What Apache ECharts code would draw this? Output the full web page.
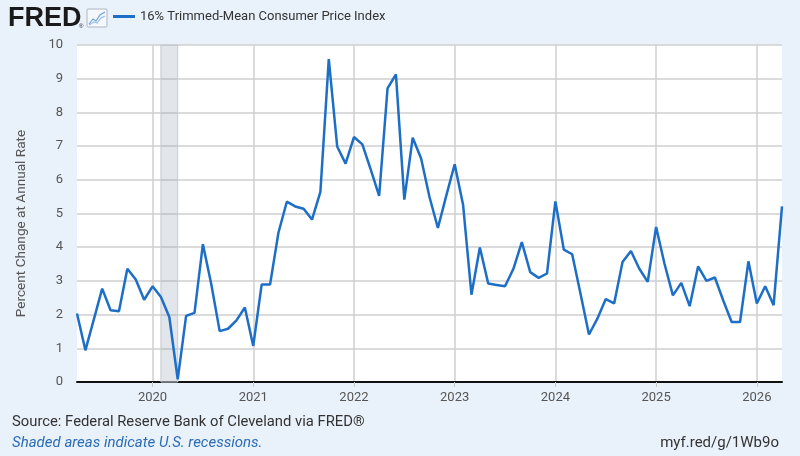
<!DOCTYPE html>
<html>
<head>
<meta charset="utf-8">
<script src="https://cdn.jsdelivr.net/npm/echarts@6/dist/echarts.min.js"></script>
<style>
html,body{margin:0;padding:0;background:#e9f1fa;}
#c{width:800px;height:456px;}
</style>
</head>
<body>
<div id="c"></div>
<script>
var months = [
  '2019-04','2019-05','2019-06','2019-07','2019-08','2019-09','2019-10','2019-11','2019-12',
  '2020-01','2020-02','2020-03','2020-04','2020-05','2020-06','2020-07','2020-08','2020-09','2020-10','2020-11','2020-12',
  '2021-01','2021-02','2021-03','2021-04','2021-05','2021-06','2021-07','2021-08','2021-09','2021-10','2021-11','2021-12',
  '2022-01','2022-02','2022-03','2022-04','2022-05','2022-06','2022-07','2022-08','2022-09','2022-10','2022-11','2022-12',
  '2023-01','2023-02','2023-03','2023-04','2023-05','2023-06','2023-07','2023-08','2023-09','2023-10','2023-11','2023-12',
  '2024-01','2024-02','2024-03','2024-04','2024-05','2024-06','2024-07','2024-08','2024-09','2024-10','2024-11','2024-12',
  '2025-01','2025-02','2025-03','2025-04','2025-05','2025-06','2025-07','2025-08','2025-09','2025-10','2025-11','2025-12',
  '2026-01','2026-02','2026-03','2026-04'
];
var trimmedMeanCPI = [
  2.03,0.94,1.85,2.77,2.13,2.10,3.36,3.04,2.44,
  2.84,2.52,1.93,0.08,1.96,2.05,4.09,2.90,1.51,1.58,1.83,2.21,
  1.07,2.89,2.89,4.43,5.35,5.21,5.14,4.82,5.64,9.58,6.99,6.48,
  7.27,7.05,6.30,5.52,8.71,9.13,5.41,7.25,6.63,5.49,4.57,5.53,
  6.46,5.26,2.59,3.99,2.92,2.88,2.84,3.36,4.15,3.26,3.09,3.22,
  5.36,3.93,3.79,2.61,1.41,1.88,2.46,2.33,3.56,3.89,3.36,2.97,
  4.60,3.51,2.57,2.94,2.25,3.43,3.00,3.10,2.42,1.78,1.78,3.58,
  2.33,2.84,2.28,5.21
];
var recessionStart = '2020-02';
var recessionEnd = '2020-04';
var yTicks = [0,1,2,3,4,5,6,7,8,9,10];

var isJan = function (idx, val) { return String(val).slice(5,7) === '01'; };

var chart = echarts.init(document.getElementById('c'));
chart.setOption({
  backgroundColor: '#e9f1fa',
  animation: false,
  textStyle: { fontFamily: 'Roboto, "Noto Sans", sans-serif' },
  grid: { left: 77, right: 18, top: 45, bottom: 74, show: true, backgroundColor: '#ffffff', borderWidth: 0 },
  legend: {
    left: 113, top: 10, padding: 0,
    icon: 'rect', itemWidth: 22, itemHeight: 3,
    textStyle: { fontSize: 13, color: '#333333', fontFamily: 'Roboto, sans-serif' },
    data: ['16% Trimmed-Mean Consumer Price Index']
  },
  graphic: [
    { type: 'text', left: 8, top: 5, style: { text: 'FRED', font: 'bold 27px "Liberation Sans", Arial, sans-serif', fill: '#1a1a1a' } },
    { type: 'text', left: 79, top: 23, style: { text: '®', font: '6px sans-serif', fill: '#1a1a1a' } },
    { type: 'rect', shape: { x: 87, y: 9, width: 20, height: 18, r: 1 }, style: { fill: '#f4f7fb', stroke: '#aeb6c2', lineWidth: 1 } },
    { type: 'polyline', shape: { points: [[89,24],[93,19],[96,21],[100,15],[105,12]] }, style: { stroke: '#6fa3dc', lineWidth: 1.2, fill: null } },
    { type: 'polyline', shape: { points: [[89,25],[94,22],[97,23],[101,18],[105,16]] }, style: { stroke: '#9cc0e8', lineWidth: 1.2, fill: null } },
    { type: 'text', left: 12, top: 415, style: { text: 'Source: Federal Reserve Bank of Cleveland via FRED®', font: '14.8px Roboto, sans-serif', fill: '#333333' } },
    { type: 'text', left: 12, top: 436, style: { text: 'Shaded areas indicate U.S. recessions.', font: 'italic 15px Roboto, sans-serif', fill: '#2b6cb5' } },
    { type: 'text', right: 21, top: 436, style: { text: 'myf.red/g/1Wb9o', font: '15px Roboto, sans-serif', fill: '#333333' } }
  ],
  xAxis: {
    type: 'category',
    data: months,
    boundaryGap: false,
    axisLine: { show: true, lineStyle: { color: '#111111', width: 2 } },
    axisTick: { show: true, interval: isJan, length: 5, lineStyle: { color: '#c8c8c8' } },
    axisLabel: { interval: isJan, formatter: function (v) { return v.slice(0,4); }, color: '#555555', fontSize: 13, margin: 9 },
    splitLine: { show: true, interval: isJan, lineStyle: { color: '#cfcfcf', width: 1.5 } }
  },
  yAxis: {
    type: 'value',
    min: yTicks[0], max: yTicks[yTicks.length-1], interval: 1,
    name: 'Percent Change at Annual Rate',
    nameLocation: 'middle', nameGap: 48,
    nameTextStyle: { fontSize: 13.6, color: '#555555', padding: [0, 20, 0, 0] },
    axisLine: { show: false },
    axisTick: { show: false },
    axisLabel: { color: '#555555', fontSize: 13, margin: 14, padding: [0,0,10,0] },
    splitLine: { show: true, lineStyle: { color: '#cfcfcf', width: 1.5 } }
  },
  series: [{
    name: '16% Trimmed-Mean Consumer Price Index',
    type: 'line',
    data: trimmedMeanCPI,
    showSymbol: false,
    symbol: 'none',
    itemStyle: { color: '#1d6ec6' },
    lineStyle: { color: '#1d6ec6', width: 2.5 },
    markArea: {
      silent: true,
      itemStyle: { color: 'rgba(140,155,175,0.25)', borderColor: '#c6cbd1', borderWidth: 1 },
      data: [[{ xAxis: recessionStart }, { xAxis: recessionEnd }]]
    }
  }]
});
</script>
</body>
</html>
